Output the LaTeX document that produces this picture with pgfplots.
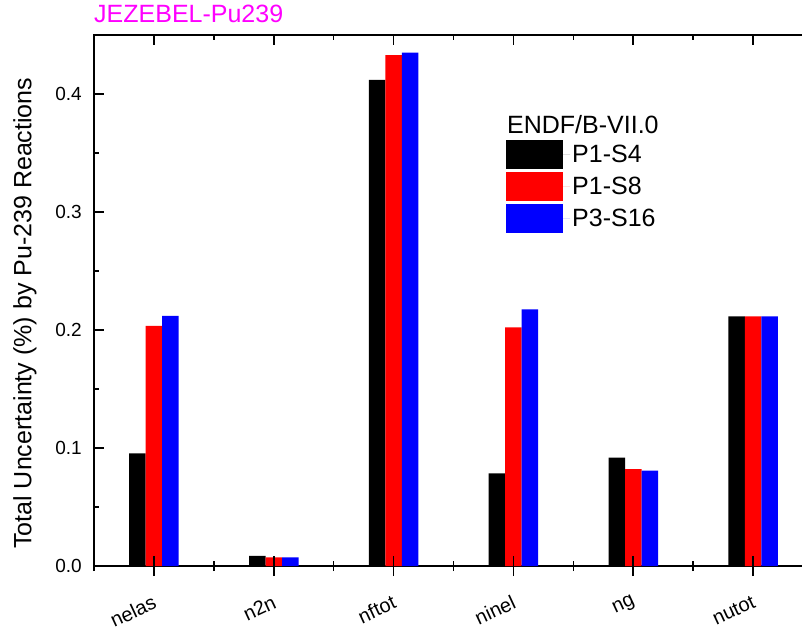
\documentclass[border=0pt]{standalone}
\usepackage{fontspec}
\setmainfont{Liberation Sans}
\usepackage{pgfplots}
\pgfplotsset{compat=1.18}
\definecolor{titlemag}{RGB}{255,0,255}

\pgfplotstableread{
x  s4      s8      s16
0  0.0955  0.2034  0.2119
1  0.0085  0.0073  0.0073
2  0.4120  0.4330  0.4350
3  0.0785  0.2023  0.2175
4  0.0918  0.0822  0.0808
5  0.2116  0.2116  0.2116
}\uncert

\pgfplotsset{
  frame/.style={
    at={(94pt,61pt)}, anchor=south west,
    scale only axis, width=719pt, height=531pt,
    xmin=-0.5, xmax=5.5, ymin=0, ymax=0.45,
    xtick={0,...,5}, minor xtick={-0.5,0.5,...,5.5},
    every tick/.style={black, line width=1.6pt},
  }
}

\begin{document}
\begin{tikzpicture}
\useasboundingbox (0,0) rectangle (802pt,627pt);
\begin{axis}[
  frame,
  ybar=0pt, bar width=16.5pt,
  axis line style={line width=2pt},
  tick align=inside,
  major tick length=10pt, minor tick length=5pt,
  xtick pos=right, ytick pos=left,
  xticklabels={},
  ytick={0,0.1,0.2,0.3,0.4}, minor ytick={0.05,0.15,0.25,0.35},
  /pgf/number format/.cd, fixed, fixed zerofill, precision=1, assume math mode=true,
  /pgfplots/.cd,
  yticklabel style={font=\fontsize{19}{22}\selectfont, inner sep=0pt, xshift=-12pt},
  ylabel={Total Uncertainty (\%) by Pu-239 Reactions},
  ylabel style={at={(axis description cs:-0.096,0.476)}, anchor=center,
    font=\fontsize{25}{28}\selectfont},
  title={JEZEBEL-Pu239},
  title style={at={(0,1)}, anchor=base west, yshift=6pt, inner sep=0pt,
    text=titlemag, font=\fontsize{25}{28}\selectfont},
  legend image code/.code={\path (0pt,0pt) -- (64pt,0pt);
    \fill[#1] (0pt,-14.5pt) rectangle (57pt,14.5pt);},
  legend cell align=left,
  legend style={draw=none, fill=none, at={(0.573,0.853)}, anchor=north west,
    inner sep=0pt, row sep=3pt, font=\fontsize{25}{28}\selectfont},
]
\addlegendimage{empty legend}
\addlegendentry{\hspace*{-65pt}ENDF/B-VII.0}
\addplot[fill=black, draw=none] table[x=x, y=s4] {\uncert};
\addlegendentry{P1-S4}
\addplot[fill=red, draw=none] table[x=x, y=s8] {\uncert};
\addlegendentry{P1-S8}
\addplot[fill=blue, draw=none] table[x=x, y=s16] {\uncert};
\addlegendentry{P3-S16}
\end{axis}
\begin{axis}[
  frame,
  axis line style={draw=none},
  ytick=\empty,
  tick align=center,
  major tick length=20pt, minor tick length=10pt,
  xtick pos=left,
  xticklabels={nelas,n2n,nftot,ninel,ng,nutot},
  xticklabel style={font=\fontsize{20}{24}\selectfont, inner sep=0pt,
    yshift=-25pt, xshift=1pt, rotate=25, anchor=east},
]
\end{axis}
\end{tikzpicture}
\end{document}
